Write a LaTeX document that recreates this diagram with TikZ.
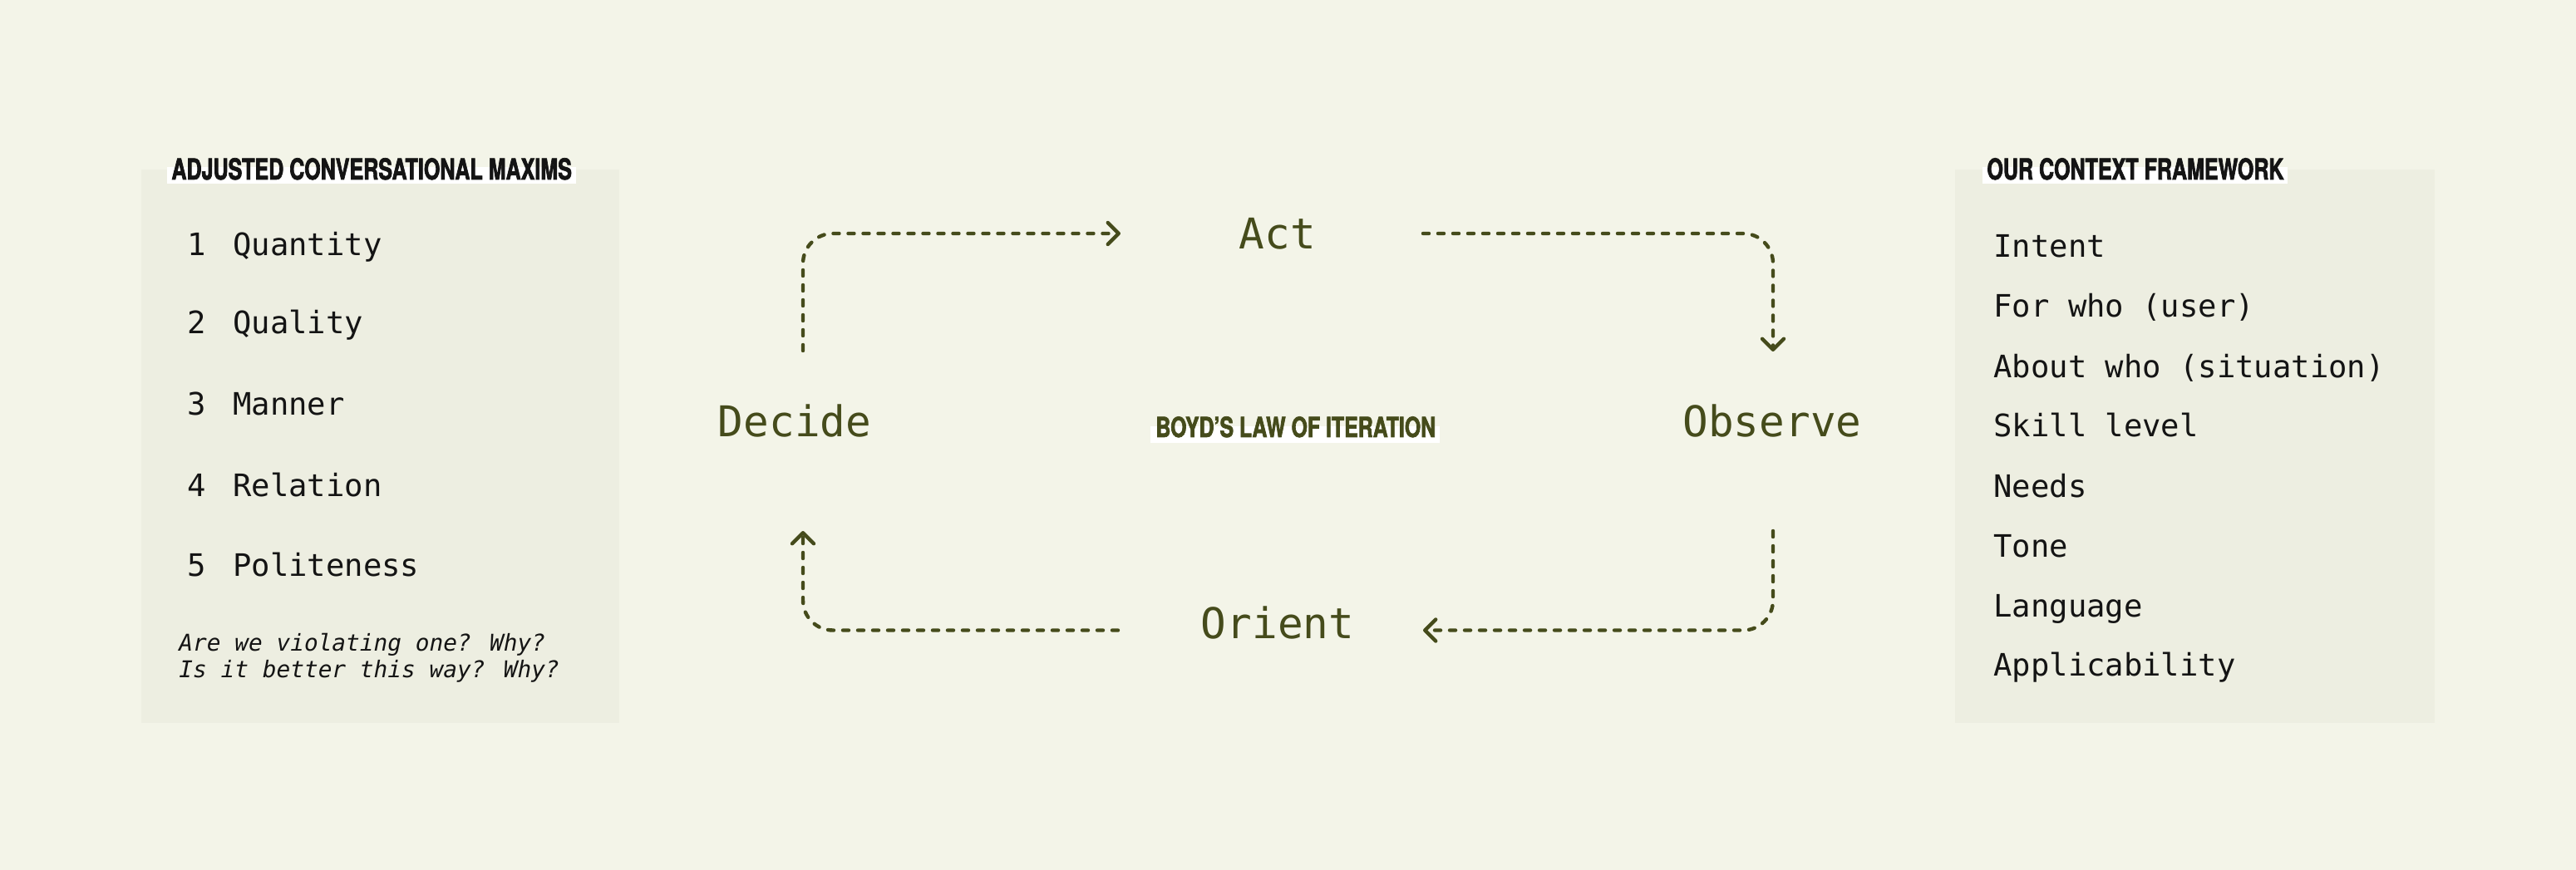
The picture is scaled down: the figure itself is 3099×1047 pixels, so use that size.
\documentclass[tikz,border=0pt]{standalone}
\usepackage{fontspec}
\newfontfamily\monof{DejaVu Sans Mono}
\newfontfamily\headf{TeX Gyre Heros}[FakeStretch=0.72,FakeBold=2]
\newfontfamily\lawf{TeX Gyre Heros}[FakeStretch=0.745,FakeBold=2]
\usetikzlibrary{arrows.meta}
\definecolor{bg}{HTML}{F3F4E8}
\definecolor{panel}{HTML}{EDEEE1}
\definecolor{olive}{HTML}{454B1B}
\definecolor{ink}{HTML}{141414}
\begin{document}
\begin{tikzpicture}[x=0.5pt,y=-0.5pt,
  panelbox/.style={fill=panel, draw=none},
  hl/.style={fill=white, draw=none},
  headtxt/.style={inner sep=0pt, anchor=base west, font=\headf\bfseries\fontsize{17.4}{20}\selectfont, text=ink},
  item/.style={inner sep=0pt, anchor=base west, font=\monof\fontsize{18.6}{22}\selectfont, text=ink},
  num/.style={inner sep=0pt, anchor=base, font=\monof\fontsize{18.6}{22}\selectfont, text=ink},
  note/.style={inner sep=0pt, anchor=base west, font=\monof\itshape\fontsize{13.9}{16}\selectfont, text=ink},
  phase/.style={inner sep=0pt, anchor=base, font=\monof\fontsize{25.5}{30}\selectfont, text=olive},
  lawtxt/.style={inner sep=0pt, anchor=base west, font=\lawf\bfseries\fontsize{16.7}{20}\selectfont, text=olive},
  flow/.style={draw=olive, line width=2.2pt, line cap=round, dash pattern=on 3.5pt off 5.5pt, rounded corners=18pt, -{Straight Barb[length=6.5pt,width=13pt,round]}},
]
\fill[bg] (0,0) rectangle (3099,1047);
\useasboundingbox (0,0) rectangle (3099,1047);

% left panel
\path[panelbox] (170,204) rectangle (745,870);
\path[hl] (201,201) rectangle (693,221);
\node[headtxt] (lefttitle) at (206,216) {ADJUSTED CONVERSATIONAL MAXIMS};
\node[num] (n1) at (236.5,308) {1};
\node[num] (n2) at (236.5,402) {2};
\node[num] (n3) at (236.5,500) {3};
\node[num] (n4) at (236.5,597) {4};
\node[num] (n5) at (236.5,693) {5};
\node[item] (m1) at (280,308) {Quantity};
\node[item] (m2) at (280,402) {Quality};
\node[item] (m3) at (280,500) {Manner};
\node[item] (m4) at (280,597) {Relation};
\node[item] (m5) at (280,693) {Politeness};
\node[note] (q1) at (215,783) {Are we violating one? Why?};
\node[note] (q2) at (215,815) {Is it better this way? Why?};

% right panel
\path[panelbox] (2352,204) rectangle (2929,870);
\path[hl] (2385,201) rectangle (2752,221);
\node[headtxt] (righttitle) at (2390,216) {OUR CONTEXT FRAMEWORK};
\node[item] (c1) at (2398,310) {Intent};
\node[item] (c2) at (2398,382) {For who (user)};
\node[item] (c3) at (2398,455) {About who (situation)};
\node[item] (c4) at (2398,526) {Skill level};
\node[item] (c5) at (2398,598) {Needs};
\node[item] (c6) at (2398,670) {Tone};
\node[item] (c7) at (2398,742) {Language};
\node[item] (c8) at (2398,813) {Applicability};

% center loop
\node[phase] (act) at (1537,300) {Act};
\node[phase] (decide) at (956,526) {Decide};
\node[phase] (observe) at (2132,526) {Observe};
\node[phase] (orient) at (1537,768) {Orient};
\path[hl] (1384,513) rectangle (1732,533);
\node[lawtxt] (law) at (1390,526) {BOYD’S LAW OF ITERATION};

\coordinate (decideOut) at (966,422);
\coordinate (actIn) at (1348,281);
\coordinate (actOut) at (1712,281);
\coordinate (observeIn) at (2133,423);
\coordinate (observeOut) at (2133,639);
\coordinate (orientIn) at (1712,758.5);
\coordinate (orientOut) at (1345,758.5);
\coordinate (decideIn) at (966,639);
\draw[flow] (decideOut) |- (actIn);
\draw[flow] (actOut) -| (observeIn);
\draw[flow] (observeOut) |- (orientIn);
\draw[flow] (orientOut) -| (decideIn);
\end{tikzpicture}
\end{document}
